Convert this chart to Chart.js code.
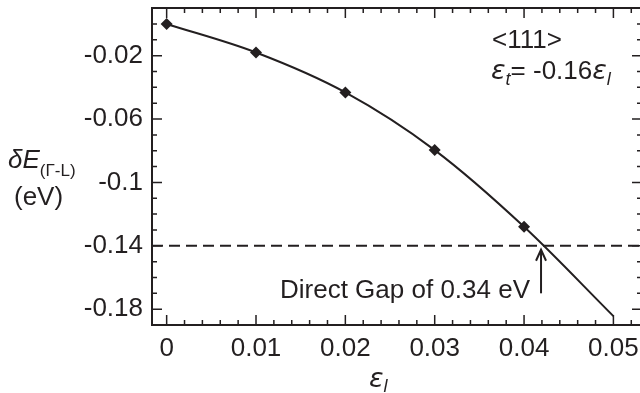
<!DOCTYPE html>
<html>
<head>
<meta charset="utf-8">
<script src="https://cdn.jsdelivr.net/npm/chart.js@4.4.1/dist/chart.umd.min.js"></script>
<style>
  html, body { margin: 0; padding: 0; background: #fff; overflow: hidden; }
</style>
</head>
<body>
<!-- a little wider than the window: the right edge of the frame is cut off in the original -->
<canvas id="chart" width="644" height="393"></canvas>
<script>
// data
const strain = [0, 0.01, 0.02, 0.03, 0.04, 0.05];
const deltaE = [0, -0.018, -0.0432, -0.0796, -0.128, -0.1844];
const markerOn = [true, true, true, true, true, false];
const gapLevel = -0.14;
const arrowX = 0.0419;
const arrowY = [-0.170, -0.1425];

const xTicks = [0, 0.01, 0.02, 0.03, 0.04, 0.05];
const xTickLabels = ['0', '0.01', '0.02', '0.03', '0.04', '0.05'];
const yTicks = [-0.02, -0.06, -0.1, -0.14, -0.18];
const yTickLabels = ['-0.02', '-0.06', '-0.1', '-0.14', '-0.18'];

const xMin = -0.00164, xMax = 0.0532;
const yMin = -0.19, yMax = 0.0101;

const ink = '#231f20';
const fontFam = '"Liberation Sans", Arial, sans-serif';
const greekFam = '"DejaVu Sans", sans-serif';

// draw a run of text pieces (italic / subscript)
function textRun(ctx, x, y, parts) {
  ctx.textAlign = 'left';
  ctx.textBaseline = 'alphabetic';
  parts.forEach(p => {
    ctx.font = (p.i ? 'italic ' : '') + p.s + 'px ' + (p.f || fontFam);
    ctx.fillText(p.t, x, y + (p.dy || 0));
    x += ctx.measureText(p.t).width;
  });
}

// no extra room for overhanging tick labels
function noPad(s) {
  s.paddingTop = 0; s.paddingBottom = 0; s.paddingLeft = 0; s.paddingRight = 0;
}

const framePlugin = {
  id: 'frame',
  afterDraw(chart) {
    const ctx = chart.ctx;
    const a = chart.chartArea;
    const xs = chart.scales.x, ys = chart.scales.y;
    ctx.save();
    ctx.strokeStyle = ink;
    ctx.fillStyle = ink;

    // box
    ctx.lineWidth = 2;
    ctx.strokeRect(a.left, a.top, a.right - a.left, a.bottom - a.top);

    // inward ticks on all four sides
    ctx.lineWidth = 1.5;
    ctx.beginPath();
    for (let k = 0; k <= 26; k++) {
      const px = xs.getPixelForValue(k * 0.002);
      const len = k % 5 === 0 ? 10 : 5;
      ctx.moveTo(px, a.bottom); ctx.lineTo(px, a.bottom - len);
      ctx.moveTo(px, a.top); ctx.lineTo(px, a.top + len);
    }
    for (let k = 0; k >= -18; k--) {
      const py = ys.getPixelForValue(k * 0.01);
      const len = (k + 2) % 4 === 0 ? 10 : 5;
      ctx.moveTo(a.left, py); ctx.lineTo(a.left + len, py);
      ctx.moveTo(a.right, py); ctx.lineTo(a.right - len, py);
    }
    ctx.stroke();

    // arrow head
    const tx = xs.getPixelForValue(arrowX), ty = ys.getPixelForValue(arrowY[1]);
    ctx.lineWidth = 2;
    ctx.beginPath();
    ctx.moveTo(tx - 5, ty + 11);
    ctx.lineTo(tx, ty);
    ctx.lineTo(tx + 5, ty + 11);
    ctx.stroke();

    // annotations
    textRun(ctx, 492, 48, [{t: '<111>', s: 26}]);
    textRun(ctx, 491, 79, [
      {t: 'ε', s: 27, i: true, f: greekFam},
      {t: 't', s: 18, i: true, dy: 6},
      {t: '= -0.16', s: 26},
      {t: 'ε', s: 27, i: true, f: greekFam},
      {t: 'l', s: 18, i: true, dy: 6}
    ]);
    textRun(ctx, 280, 298, [{t: 'Direct Gap of 0.34 eV', s: 26}]);

    // axis titles
    textRun(ctx, 8, 168, [
      {t: 'δE', s: 26, i: true},
      {t: '(Γ-L)', s: 17, dy: 8}
    ]);
    textRun(ctx, 14, 205, [{t: '(eV)', s: 26}]);
    textRun(ctx, 369, 387, [
      {t: 'ε', s: 27, i: true, f: greekFam},
      {t: 'l', s: 18, i: true, dy: 5}
    ]);
    ctx.restore();
  }
};

new Chart(document.getElementById('chart'), {
  type: 'line',
  data: {
    datasets: [
      {
        data: strain.map((x, i) => ({x: x, y: deltaE[i]})),
        borderColor: ink,
        backgroundColor: ink,
        borderWidth: 2,
        cubicInterpolationMode: 'monotone',
        pointStyle: 'rectRot',
        pointRadius: markerOn.map(m => m ? 6 : 0),
        pointBorderWidth: 0
      },
      {
        data: [{x: xMin, y: gapLevel}, {x: xMax, y: gapLevel}],
        borderColor: ink,
        borderWidth: 2,
        borderDash: [11, 6],
        pointRadius: 0
      },
      {
        data: arrowY.map(y => ({x: arrowX, y: y})),
        borderColor: ink,
        borderWidth: 2,
        pointRadius: 0
      }
    ]
  },
  options: {
    responsive: false,
    animation: false,
    layout: { autoPadding: false, padding: { top: 8, right: 2, left: 0, bottom: 0 } },
    plugins: { legend: { display: false }, tooltip: { enabled: false } },
    scales: {
      x: {
        type: 'linear',
        min: xMin,
        max: xMax,
        grid: { display: false, drawTicks: false },
        border: { display: false },
        afterBuildTicks: s => { s.ticks = xTicks.map(v => ({value: v})); },
        afterFit: s => { s.height = 68; noPad(s); },
        ticks: {
          color: ink,
          padding: 8,
          maxRotation: 0,
          autoSkip: false,
          font: { family: fontFam, size: 26 },
          callback: (v, i) => xTickLabels[i]
        }
      },
      y: {
        type: 'linear',
        min: yMin,
        max: yMax,
        grid: { display: false, drawTicks: false },
        border: { display: false },
        afterBuildTicks: s => { s.ticks = yTicks.map(v => ({value: v})); },
        afterFit: s => { s.width = 152; noPad(s); },
        ticks: {
          color: ink,
          padding: 9,
          autoSkip: false,
          font: { family: fontFam, size: 26 },
          callback: (v, i) => yTickLabels[i]
        }
      }
    }
  },
  plugins: [framePlugin]
});
</script>
</body>
</html>
